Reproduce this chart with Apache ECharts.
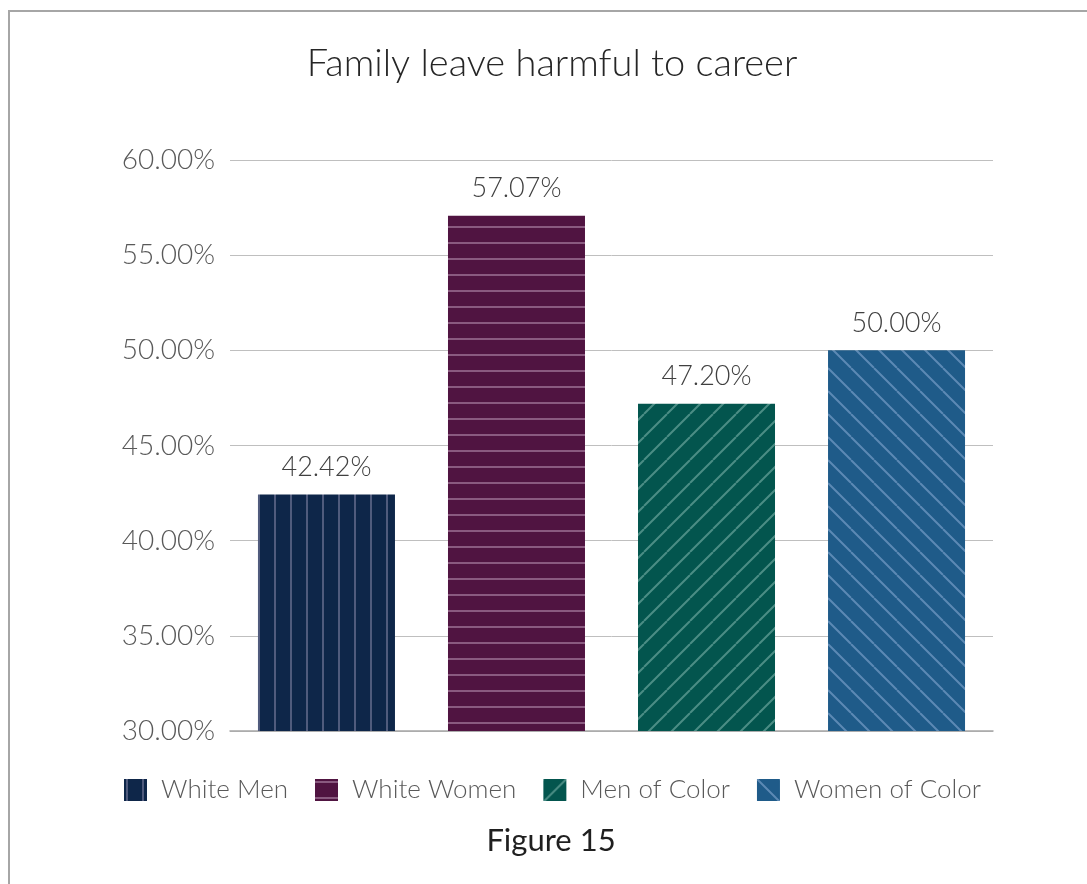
<!DOCTYPE html>
<html>
<head>
<meta charset="utf-8">
<script src="https://cdn.jsdelivr.net/npm/echarts@6/dist/echarts.min.js"></script>
<style>
  html, body { margin: 0; padding: 0; background: #ffffff; }
  #frame { position: absolute; left: 8px; top: 10px; right: -5px; bottom: -5px;
           border-left: 2px solid #a6a6a6; border-top: 2px solid #a6a6a6; }
  #chart { position: absolute; left: 0; top: 0; width: 1087px; height: 884px; }
</style>
</head>
<body>
<div id="frame"></div>
<div id="chart"></div>
<script>
// ---- data ----
const titleText = 'Family leave harmful to career';
const captionText = 'Figure 15';
const categories = ['Family leave harmful to career'];
const seriesNames = ['White Men', 'White Women', 'Men of Color', 'Women of Color'];
const whiteMen = [42.42];
const whiteWomen = [57.07];
const menOfColor = [47.20];
const womenOfColor = [50.00];
const yTicks = { min: 30, max: 60, interval: 5 };

// ---- patterns ----
function makePattern(kind, bg, fg) {
  const size = kind === 'v' || kind === 'h' ? 16 : 23;
  const c = document.createElement('canvas');
  c.width = size; c.height = size;
  const ctx = c.getContext('2d');
  ctx.fillStyle = bg;
  ctx.fillRect(0, 0, size, size);
  ctx.strokeStyle = fg;
  ctx.lineWidth = 2;
  ctx.beginPath();
  if (kind === 'v') {
    ctx.moveTo(3, 0); ctx.lineTo(3, size);
  } else if (kind === 'h') {
    ctx.moveTo(0, 3); ctx.lineTo(size, 3);
  } else if (kind === 'up') {
    for (let k = -1; k <= 1; k++) {
      ctx.moveTo(k * size, size); ctx.lineTo(k * size + size, 0);
    }
  } else {
    for (let k = -1; k <= 1; k++) {
      ctx.moveTo(k * size, 0); ctx.lineTo(k * size + size, size);
    }
  }
  ctx.stroke();
  return { image: c, repeat: 'repeat' };
}

const fills = [
  makePattern('v', '#0e2649', '#505b7d'),
  makePattern('h', '#501441', '#8a5a80'),
  makePattern('up', '#03554e', '#4b8d85'),
  makePattern('down', '#1f5b89', '#5c89b4')
];
const seriesData = [whiteMen, whiteWomen, menOfColor, womenOfColor];

const fontFam = 'Lato, "Open Sans", sans-serif';

const chart = echarts.init(document.getElementById('chart'), null, { renderer: 'canvas' });
chart.setOption({
  backgroundColor: 'transparent',
  animation: false,
  title: [
    {
      text: titleText,
      left: 552,
      textAlign: 'center',
      top: 45,
      padding: 0,
      textStyle: { fontFamily: fontFam, fontSize: 38, fontWeight: 300, color: '#262626' }
    },
    {
      text: captionText,
      left: 551,
      textAlign: 'center',
      top: 825,
      padding: 0,
      textStyle: { fontFamily: fontFam, fontSize: 31, fontWeight: 'normal', color: '#1f1f1f' }
    }
  ],
  legend: {
    data: seriesNames,
    left: 124,
    top: 777,
    padding: 0,
    itemWidth: 23,
    itemHeight: 22,
    itemGap: 27,
    icon: 'rect',
    textStyle: { fontFamily: fontFam, fontSize: 26, fontWeight: 300, color: '#595959', padding: [0, 0, 0, 9] }
  },
  grid: { left: 230, right: 94, top: 160, bottom: 153, containLabel: false },
  xAxis: {
    type: 'category',
    data: categories,
    axisLine: { show: true, lineStyle: { color: '#a6a6a6', width: 1.5 } },
    axisTick: { show: false },
    axisLabel: { show: false },
    splitLine: { show: false }
  },
  yAxis: {
    type: 'value',
    min: yTicks.min,
    max: yTicks.max,
    interval: yTicks.interval,
    axisLine: { show: false },
    axisTick: { show: false },
    axisLabel: {
      margin: 15,
      fontFamily: fontFam,
      fontSize: 28,
      fontWeight: 300,
      color: '#595959',
      formatter: v => v.toFixed(2) + '%'
    },
    splitLine: { lineStyle: { color: '#bfbfbf', width: 1 } }
  },
  series: seriesNames.map((name, i) => ({
    name,
    type: 'bar',
    data: seriesData[i],
    barWidth: 137,
    barGap: '38.7%',
    itemStyle: { color: fills[i] },
    label: {
      show: true,
      position: 'top',
      distance: 14,
      fontFamily: fontFam,
      fontSize: 27,
      fontWeight: 300,
      color: '#404040',
      formatter: p => p.value.toFixed(2) + '%'
    }
  }))
});
</script>
</body>
</html>
